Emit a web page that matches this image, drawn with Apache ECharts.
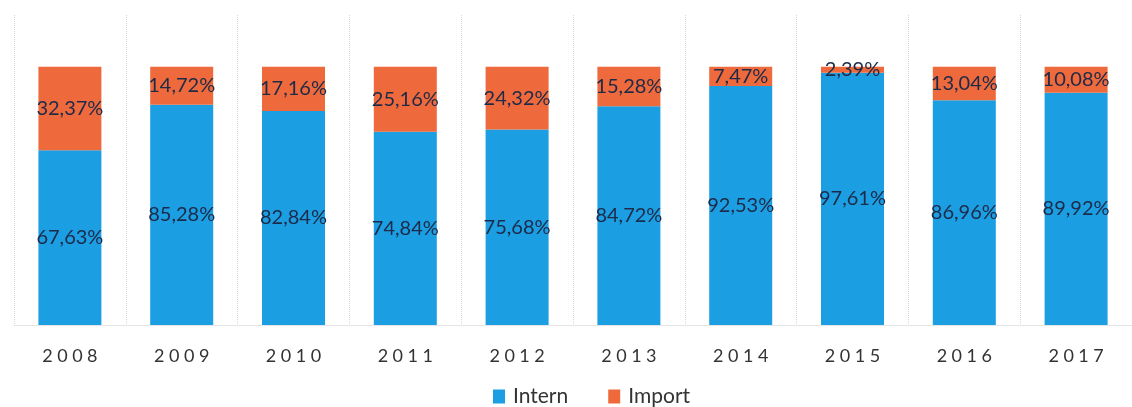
<!DOCTYPE html>
<html>
<head>
<meta charset="utf-8">
<script src="https://cdn.jsdelivr.net/npm/echarts@6/dist/echarts.min.js"></script>
<style>
  html, body { margin: 0; padding: 0; background: #fff; }
  #chart { width: 1132px; height: 407px; }
</style>
</head>
<body>
<div id="chart"></div>
<script>
// Share of domestic vs. imported supply per year (percent)
const years = ['2008', '2009', '2010', '2011', '2012', '2013', '2014', '2015', '2016', '2017'];
const intern = [67.63, 85.28, 82.84, 74.84, 75.68, 84.72, 92.53, 97.61, 86.96, 89.92];
const importShare = [32.37, 14.72, 17.16, 25.16, 24.32, 15.28, 7.47, 2.39, 13.04, 10.08];

const fmtPct = v => v.toFixed(2).replace('.', ',') + '%';
const spaced = s => s.split('').join('\u2009\u2009');

const labelStyle = {
  show: true,
  position: 'inside',
  color: '#1d2a48',
  fontFamily: 'Lato',
  fontSize: 20,
  formatter: p => fmtPct(p.value)
};

const chart = echarts.init(document.getElementById('chart'));
chart.setOption({
  animation: false,
  grid: { left: 14, right: -2, top: 15, bottom: 82 },
  legend: {
    bottom: -5,
    left: 488,
    itemWidth: 12,
    itemHeight: 14,
    itemGap: 40,
    icon: 'rect',
    textStyle: { fontFamily: 'Lato', fontSize: 21, color: '#333', padding: [2, 0, 0, 3] },
    data: ['Intern', 'Import']
  },
  xAxis: {
    type: 'category',
    data: years,
    axisTick: { show: false },
    axisLine: { show: true, lineStyle: { color: '#e4e4e4' } },
    splitLine: { show: true, lineStyle: { color: '#d6d6d6', type: 'dotted', width: 1 } },
    axisLabel: {
      margin: 22,
      fontFamily: 'Lato',
      fontSize: 18,
      color: '#333',
      formatter: v => spaced(v)
    }
  },
  yAxis: {
    type: 'value',
    min: 0,
    max: 120,
    show: false,
    splitLine: { show: false }
  },
  series: [
    {
      name: 'Intern',
      type: 'bar',
      stack: 'total',
      barWidth: 63,
      itemStyle: { color: '#1c9ee2' },
      label: labelStyle,
      data: intern
    },
    {
      name: 'Import',
      type: 'bar',
      stack: 'total',
      barWidth: 63,
      itemStyle: { color: '#ee6a3c' },
      label: labelStyle,
      data: importShare
    }
  ]
});
</script>
</body>
</html>
